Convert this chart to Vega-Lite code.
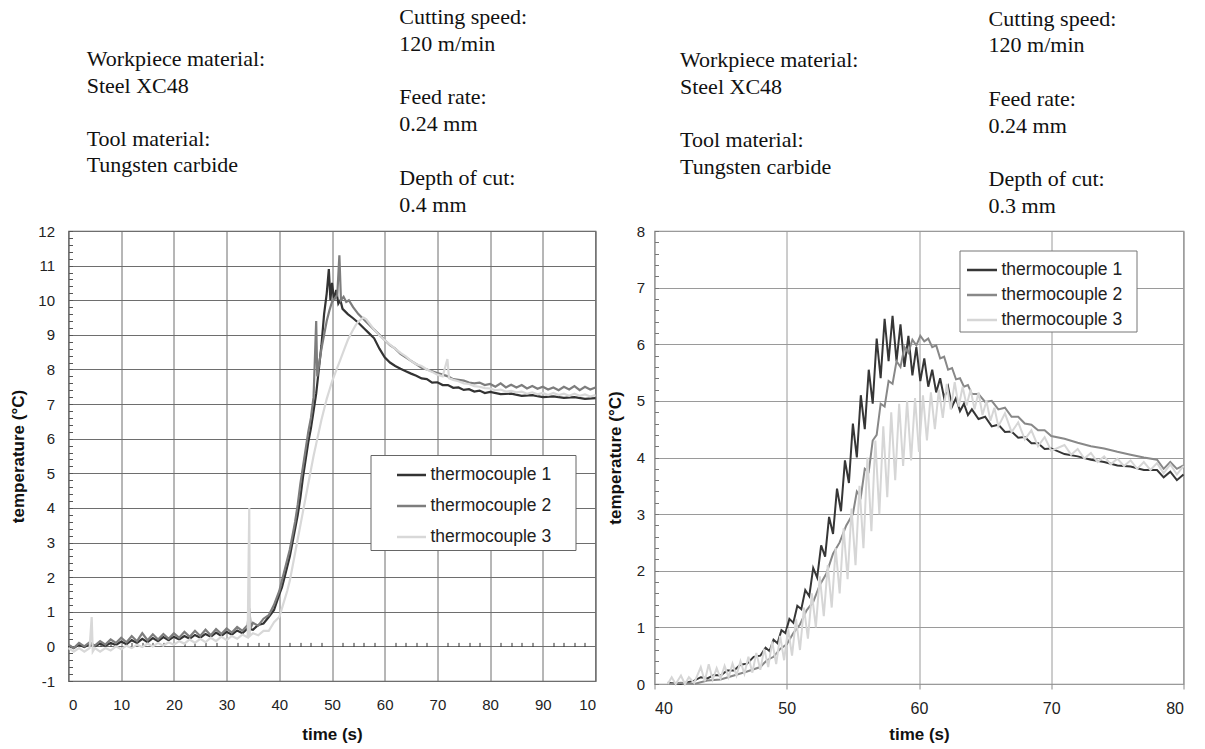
{
"$schema": "https://vega.github.io/schema/vega-lite/v6.json",
"background": "white",
"padding": {"left": 8.5, "top": 4, "right": 0, "bottom": 0},
"spacing": 5,
"config": {
  "font": "Liberation Sans",
  "axis": {"labelFont": "Liberation Sans", "titleFont": "Liberation Sans", "labelColor": "#222", "titleColor": "#111", "titleFontWeight": "bold", "titleFontSize": 17, "labelFontSize": 15}
},
"resolve": {"scale": {"color": "independent"}, "legend": {"color": "independent"}},
"datasets": {
"L": [
{"s":1,"t":0,"v":0.02},{"s":1,"t":1,"v":-0.05},{"s":1,"t":2,"v":0.05},{"s":1,"t":3,"v":-0.02},{"s":1,"t":4,"v":0.06},{"s":1,"t":5,"v":0.0},{"s":1,"t":6,"v":0.08},{"s":1,"t":7,"v":0.02},{"s":1,"t":8,"v":0.1},{"s":1,"t":9,"v":0.04},{"s":1,"t":10,"v":0.14},{"s":1,"t":11,"v":0.06},{"s":1,"t":12,"v":0.18},{"s":1,"t":13,"v":0.1},{"s":1,"t":14,"v":0.22},{"s":1,"t":15,"v":0.12},{"s":1,"t":16,"v":0.24},{"s":1,"t":17,"v":0.15},{"s":1,"t":18,"v":0.27},{"s":1,"t":19,"v":0.18},{"s":1,"t":20,"v":0.28},{"s":1,"t":21,"v":0.2},{"s":1,"t":22,"v":0.3},{"s":1,"t":23,"v":0.22},{"s":1,"t":24,"v":0.33},{"s":1,"t":25,"v":0.25},{"s":1,"t":26,"v":0.36},{"s":1,"t":27,"v":0.28},{"s":1,"t":28,"v":0.4},{"s":1,"t":29,"v":0.3},{"s":1,"t":30,"v":0.42},{"s":1,"t":31,"v":0.34},{"s":1,"t":32,"v":0.46},{"s":1,"t":33,"v":0.38},{"s":1,"t":34,"v":0.52},{"s":1,"t":35,"v":0.48},{"s":1,"t":36,"v":0.62},{"s":1,"t":37,"v":0.66},{"s":1,"t":38,"v":0.85},{"s":1,"t":39,"v":1.05},{"s":1,"t":40,"v":1.5},{"s":1,"t":40.5,"v":1.7},{"s":1,"t":41,"v":2.0},{"s":1,"t":41.5,"v":2.3},{"s":1,"t":42,"v":2.6},{"s":1,"t":42.5,"v":3.0},{"s":1,"t":43,"v":3.4},{"s":1,"t":43.5,"v":3.8},{"s":1,"t":44,"v":4.3},{"s":1,"t":44.5,"v":4.9},{"s":1,"t":45,"v":5.4},{"s":1,"t":45.5,"v":5.9},{"s":1,"t":46,"v":6.3},{"s":1,"t":46.5,"v":6.8},{"s":1,"t":47,"v":7.3},{"s":1,"t":47.5,"v":8.0},{"s":1,"t":48,"v":8.7},{"s":1,"t":48.5,"v":9.6},{"s":1,"t":49,"v":10.2},{"s":1,"t":49.4,"v":10.9},{"s":1,"t":49.7,"v":10.0},{"s":1,"t":50,"v":10.5},{"s":1,"t":50.4,"v":10.0},{"s":1,"t":50.8,"v":10.3},{"s":1,"t":51.2,"v":9.9},{"s":1,"t":51.6,"v":10.0},{"s":1,"t":52,"v":9.75},{"s":1,"t":53,"v":9.6},{"s":1,"t":54,"v":9.48},{"s":1,"t":55,"v":9.35},{"s":1,"t":56,"v":9.2},{"s":1,"t":57,"v":9.05},{"s":1,"t":58,"v":8.9},{"s":1,"t":59,"v":8.6},{"s":1,"t":60,"v":8.35},{"s":1,"t":61,"v":8.2},{"s":1,"t":62,"v":8.1},{"s":1,"t":63,"v":8.02},{"s":1,"t":64,"v":7.95},{"s":1,"t":65,"v":7.88},{"s":1,"t":66,"v":7.82},{"s":1,"t":67,"v":7.74},{"s":1,"t":68,"v":7.72},{"s":1,"t":69,"v":7.62},{"s":1,"t":70,"v":7.63},{"s":1,"t":71,"v":7.55},{"s":1,"t":72,"v":7.55},{"s":1,"t":73,"v":7.47},{"s":1,"t":74,"v":7.48},{"s":1,"t":75,"v":7.41},{"s":1,"t":76,"v":7.43},{"s":1,"t":77,"v":7.36},{"s":1,"t":78,"v":7.39},{"s":1,"t":79,"v":7.32},{"s":1,"t":80,"v":7.35},{"s":1,"t":82,"v":7.29},{"s":1,"t":84,"v":7.3},{"s":1,"t":86,"v":7.24},{"s":1,"t":88,"v":7.26},{"s":1,"t":90,"v":7.2},{"s":1,"t":92,"v":7.22},{"s":1,"t":94,"v":7.18},{"s":1,"t":96,"v":7.2},{"s":1,"t":98,"v":7.15},{"s":1,"t":100,"v":7.17},
{"s":2,"t":0,"v":0.05},{"s":2,"t":1,"v":-0.05},{"s":2,"t":2,"v":0.1},{"s":2,"t":3,"v":0.0},{"s":2,"t":4,"v":0.12},{"s":2,"t":5,"v":0.02},{"s":2,"t":6,"v":0.15},{"s":2,"t":7,"v":0.05},{"s":2,"t":8,"v":0.2},{"s":2,"t":9,"v":0.1},{"s":2,"t":10,"v":0.25},{"s":2,"t":11,"v":0.12},{"s":2,"t":12,"v":0.3},{"s":2,"t":13,"v":0.15},{"s":2,"t":14,"v":0.38},{"s":2,"t":15,"v":0.18},{"s":2,"t":16,"v":0.35},{"s":2,"t":17,"v":0.2},{"s":2,"t":18,"v":0.36},{"s":2,"t":19,"v":0.22},{"s":2,"t":20,"v":0.38},{"s":2,"t":21,"v":0.25},{"s":2,"t":22,"v":0.42},{"s":2,"t":23,"v":0.28},{"s":2,"t":24,"v":0.45},{"s":2,"t":25,"v":0.3},{"s":2,"t":26,"v":0.48},{"s":2,"t":27,"v":0.32},{"s":2,"t":28,"v":0.5},{"s":2,"t":29,"v":0.36},{"s":2,"t":30,"v":0.52},{"s":2,"t":31,"v":0.4},{"s":2,"t":32,"v":0.56},{"s":2,"t":33,"v":0.45},{"s":2,"t":34,"v":0.62},{"s":2,"t":34.3,"v":1.1},{"s":2,"t":34.6,"v":0.55},{"s":2,"t":35,"v":0.68},{"s":2,"t":36,"v":0.6},{"s":2,"t":37,"v":0.8},{"s":2,"t":38,"v":0.9},{"s":2,"t":39,"v":1.2},{"s":2,"t":40,"v":1.6},{"s":2,"t":40.5,"v":1.9},{"s":2,"t":41,"v":2.2},{"s":2,"t":41.5,"v":2.5},{"s":2,"t":42,"v":2.8},{"s":2,"t":42.5,"v":3.2},{"s":2,"t":43,"v":3.6},{"s":2,"t":43.5,"v":4.1},{"s":2,"t":44,"v":4.7},{"s":2,"t":44.5,"v":5.2},{"s":2,"t":45,"v":5.7},{"s":2,"t":45.5,"v":6.2},{"s":2,"t":46,"v":6.6},{"s":2,"t":46.5,"v":7.2},{"s":2,"t":47,"v":9.4},{"s":2,"t":47.2,"v":7.8},{"s":2,"t":47.6,"v":8.2},{"s":2,"t":48,"v":8.6},{"s":2,"t":48.5,"v":9.0},{"s":2,"t":49,"v":9.4},{"s":2,"t":49.5,"v":9.7},{"s":2,"t":50,"v":9.95},{"s":2,"t":50.5,"v":10.05},{"s":2,"t":51,"v":10.15},{"s":2,"t":51.4,"v":11.3},{"s":2,"t":51.7,"v":10.0},{"s":2,"t":52.2,"v":10.1},{"s":2,"t":52.7,"v":9.95},{"s":2,"t":53.2,"v":10.0},{"s":2,"t":54,"v":9.8},{"s":2,"t":55,"v":9.6},{"s":2,"t":56,"v":9.45},{"s":2,"t":57,"v":9.3},{"s":2,"t":58,"v":9.15},{"s":2,"t":59,"v":9.0},{"s":2,"t":60,"v":8.85},{"s":2,"t":61,"v":8.7},{"s":2,"t":62,"v":8.6},{"s":2,"t":63,"v":8.45},{"s":2,"t":64,"v":8.35},{"s":2,"t":65,"v":8.25},{"s":2,"t":66,"v":8.15},{"s":2,"t":67,"v":8.05},{"s":2,"t":68,"v":8.0},{"s":2,"t":69,"v":7.95},{"s":2,"t":70,"v":7.9},{"s":2,"t":71,"v":7.85},{"s":2,"t":72,"v":7.8},{"s":2,"t":73,"v":7.72},{"s":2,"t":74,"v":7.7},{"s":2,"t":75,"v":7.68},{"s":2,"t":76,"v":7.62},{"s":2,"t":77,"v":7.6},{"s":2,"t":78,"v":7.62},{"s":2,"t":79,"v":7.55},{"s":2,"t":80,"v":7.58},{"s":2,"t":81,"v":7.5},{"s":2,"t":82,"v":7.6},{"s":2,"t":83,"v":7.48},{"s":2,"t":84,"v":7.56},{"s":2,"t":85,"v":7.48},{"s":2,"t":86,"v":7.55},{"s":2,"t":87,"v":7.45},{"s":2,"t":88,"v":7.52},{"s":2,"t":89,"v":7.44},{"s":2,"t":90,"v":7.5},{"s":2,"t":91,"v":7.42},{"s":2,"t":92,"v":7.48},{"s":2,"t":93,"v":7.4},{"s":2,"t":94,"v":7.5},{"s":2,"t":95,"v":7.42},{"s":2,"t":96,"v":7.52},{"s":2,"t":97,"v":7.4},{"s":2,"t":98,"v":7.5},{"s":2,"t":99,"v":7.42},{"s":2,"t":100,"v":7.48},
{"s":3,"t":0,"v":-0.05},{"s":3,"t":1,"v":-0.15},{"s":3,"t":2,"v":-0.05},{"s":3,"t":3,"v":-0.15},{"s":3,"t":4,"v":-0.05},{"s":3,"t":4.4,"v":0.85},{"s":3,"t":4.6,"v":-0.15},{"s":3,"t":5,"v":-0.05},{"s":3,"t":6,"v":-0.15},{"s":3,"t":7,"v":-0.05},{"s":3,"t":8,"v":-0.12},{"s":3,"t":9,"v":0.0},{"s":3,"t":10,"v":-0.08},{"s":3,"t":11,"v":0.02},{"s":3,"t":12,"v":-0.05},{"s":3,"t":13,"v":0.05},{"s":3,"t":14,"v":-0.02},{"s":3,"t":15,"v":0.08},{"s":3,"t":16,"v":0.0},{"s":3,"t":17,"v":0.1},{"s":3,"t":18,"v":0.02},{"s":3,"t":19,"v":0.12},{"s":3,"t":20,"v":0.05},{"s":3,"t":21,"v":0.15},{"s":3,"t":22,"v":0.08},{"s":3,"t":23,"v":0.2},{"s":3,"t":24,"v":0.1},{"s":3,"t":25,"v":0.22},{"s":3,"t":26,"v":0.12},{"s":3,"t":27,"v":0.25},{"s":3,"t":28,"v":0.15},{"s":3,"t":29,"v":0.28},{"s":3,"t":30,"v":0.18},{"s":3,"t":31,"v":0.3},{"s":3,"t":32,"v":0.22},{"s":3,"t":33,"v":0.34},{"s":3,"t":34,"v":0.26},{"s":3,"t":34.3,"v":4.0},{"s":3,"t":34.4,"v":0.3},{"s":3,"t":35,"v":0.38},{"s":3,"t":36,"v":0.32},{"s":3,"t":37,"v":0.45},{"s":3,"t":38,"v":0.45},{"s":3,"t":39,"v":0.7},{"s":3,"t":40,"v":0.85},{"s":3,"t":40.5,"v":1.1},{"s":3,"t":41,"v":1.35},{"s":3,"t":41.5,"v":1.6},{"s":3,"t":42,"v":1.9},{"s":3,"t":42.5,"v":2.3},{"s":3,"t":43,"v":2.7},{"s":3,"t":43.5,"v":3.1},{"s":3,"t":44,"v":3.5},{"s":3,"t":44.5,"v":3.9},{"s":3,"t":45,"v":4.3},{"s":3,"t":45.5,"v":4.7},{"s":3,"t":46,"v":5.1},{"s":3,"t":46.5,"v":5.5},{"s":3,"t":47,"v":5.85},{"s":3,"t":47.5,"v":6.2},{"s":3,"t":48,"v":6.55},{"s":3,"t":48.5,"v":6.85},{"s":3,"t":49,"v":7.15},{"s":3,"t":49.5,"v":7.4},{"s":3,"t":50,"v":7.65},{"s":3,"t":50.5,"v":7.85},{"s":3,"t":51,"v":8.05},{"s":3,"t":51.5,"v":8.25},{"s":3,"t":52,"v":8.45},{"s":3,"t":52.5,"v":8.65},{"s":3,"t":53,"v":8.85},{"s":3,"t":53.5,"v":9.0},{"s":3,"t":54,"v":9.15},{"s":3,"t":54.5,"v":9.28},{"s":3,"t":55,"v":9.38},{"s":3,"t":55.5,"v":9.45},{"s":3,"t":56,"v":9.5},{"s":3,"t":56.5,"v":9.45},{"s":3,"t":57,"v":9.35},{"s":3,"t":58,"v":9.15},{"s":3,"t":59,"v":8.98},{"s":3,"t":60,"v":8.85},{"s":3,"t":61,"v":8.72},{"s":3,"t":62,"v":8.6},{"s":3,"t":63,"v":8.48},{"s":3,"t":64,"v":8.38},{"s":3,"t":65,"v":8.25},{"s":3,"t":66,"v":8.15},{"s":3,"t":67,"v":8.1},{"s":3,"t":68,"v":8.0},{"s":3,"t":69,"v":7.93},{"s":3,"t":70,"v":7.85},{"s":3,"t":71,"v":7.8},{"s":3,"t":71.9,"v":8.3},{"s":3,"t":72.2,"v":7.75},{"s":3,"t":73,"v":7.7},{"s":3,"t":74,"v":7.66},{"s":3,"t":75,"v":7.6},{"s":3,"t":76,"v":7.58},{"s":3,"t":77,"v":7.52},{"s":3,"t":78,"v":7.5},{"s":3,"t":79,"v":7.46},{"s":3,"t":80,"v":7.45},{"s":3,"t":81,"v":7.4},{"s":3,"t":82,"v":7.42},{"s":3,"t":83,"v":7.36},{"s":3,"t":84,"v":7.38},{"s":3,"t":85,"v":7.34},{"s":3,"t":86,"v":7.36},{"s":3,"t":87,"v":7.3},{"s":3,"t":88,"v":7.34},{"s":3,"t":89,"v":7.28},{"s":3,"t":90,"v":7.32},{"s":3,"t":91,"v":7.26},{"s":3,"t":92,"v":7.32},{"s":3,"t":93,"v":7.26},{"s":3,"t":94,"v":7.3},{"s":3,"t":95,"v":7.24},{"s":3,"t":96,"v":7.3},{"s":3,"t":97,"v":7.24},{"s":3,"t":98,"v":7.28},{"s":3,"t":99,"v":7.22},{"s":3,"t":100,"v":7.26}
],
"R": [
{"s":1,"t":41,"v":0.02},{"s":1,"t":42,"v":0.0},{"s":1,"t":43,"v":0.06},{"s":1,"t":43.5,"v":0.12},{"s":1,"t":44,"v":0.1},{"s":1,"t":44.5,"v":0.16},{"s":1,"t":45,"v":0.15},{"s":1,"t":45.5,"v":0.24},{"s":1,"t":46,"v":0.24},{"s":1,"t":46.5,"v":0.34},{"s":1,"t":47,"v":0.36},{"s":1,"t":47.5,"v":0.48},{"s":1,"t":48,"v":0.5},{"s":1,"t":48.4,"v":0.64},{"s":1,"t":48.7,"v":0.58},{"s":1,"t":49,"v":0.78},{"s":1,"t":49.3,"v":0.72},{"s":1,"t":49.6,"v":0.95},{"s":1,"t":49.9,"v":0.9},{"s":1,"t":50.2,"v":1.15},{"s":1,"t":50.5,"v":1.08},{"s":1,"t":50.8,"v":1.38},{"s":1,"t":51.1,"v":1.32},{"s":1,"t":51.4,"v":1.66},{"s":1,"t":51.7,"v":1.55},{"s":1,"t":52.0,"v":2.05},{"s":1,"t":52.3,"v":1.88},{"s":1,"t":52.6,"v":2.45},{"s":1,"t":52.9,"v":2.25},{"s":1,"t":53.2,"v":2.95},{"s":1,"t":53.5,"v":2.65},{"s":1,"t":53.8,"v":3.45},{"s":1,"t":54.1,"v":3.05},{"s":1,"t":54.4,"v":3.95},{"s":1,"t":54.7,"v":3.55},{"s":1,"t":55.0,"v":4.6},{"s":1,"t":55.3,"v":4.0},{"s":1,"t":55.6,"v":5.1},{"s":1,"t":55.9,"v":4.5},{"s":1,"t":56.2,"v":5.55},{"s":1,"t":56.5,"v":4.95},{"s":1,"t":56.8,"v":6.1},{"s":1,"t":57.1,"v":5.4},{"s":1,"t":57.4,"v":6.45},{"s":1,"t":57.7,"v":5.7},{"s":1,"t":58.0,"v":6.5},{"s":1,"t":58.3,"v":5.7},{"s":1,"t":58.6,"v":6.35},{"s":1,"t":58.9,"v":5.6},{"s":1,"t":59.2,"v":6.15},{"s":1,"t":59.5,"v":5.45},{"s":1,"t":59.8,"v":5.95},{"s":1,"t":60.1,"v":5.35},{"s":1,"t":60.4,"v":5.75},{"s":1,"t":60.7,"v":5.25},{"s":1,"t":61.0,"v":5.55},{"s":1,"t":61.3,"v":5.15},{"s":1,"t":61.6,"v":5.4},{"s":1,"t":61.9,"v":5.05},{"s":1,"t":62.2,"v":5.25},{"s":1,"t":62.5,"v":4.9},{"s":1,"t":62.8,"v":5.05},{"s":1,"t":63.1,"v":4.82},{"s":1,"t":63.4,"v":4.95},{"s":1,"t":63.7,"v":4.75},{"s":1,"t":64.0,"v":4.85},{"s":1,"t":64.5,"v":4.68},{"s":1,"t":65,"v":4.72},{"s":1,"t":65.5,"v":4.55},{"s":1,"t":66,"v":4.58},{"s":1,"t":66.5,"v":4.45},{"s":1,"t":67,"v":4.46},{"s":1,"t":67.5,"v":4.35},{"s":1,"t":68,"v":4.36},{"s":1,"t":68.5,"v":4.25},{"s":1,"t":69,"v":4.25},{"s":1,"t":69.5,"v":4.15},{"s":1,"t":70,"v":4.16},{"s":1,"t":71,"v":4.06},{"s":1,"t":72,"v":4.02},{"s":1,"t":73,"v":3.96},{"s":1,"t":74,"v":3.92},{"s":1,"t":75,"v":3.86},{"s":1,"t":76,"v":3.84},{"s":1,"t":77,"v":3.78},{"s":1,"t":78,"v":3.78},{"s":1,"t":78.5,"v":3.65},{"s":1,"t":79,"v":3.75},{"s":1,"t":79.5,"v":3.6},{"s":1,"t":80,"v":3.7},
{"s":2,"t":41,"v":0.0},{"s":2,"t":42,"v":0.02},{"s":2,"t":43,"v":0.0},{"s":2,"t":44,"v":0.06},{"s":2,"t":45,"v":0.08},{"s":2,"t":46,"v":0.15},{"s":2,"t":47,"v":0.22},{"s":2,"t":48,"v":0.3},{"s":2,"t":48.5,"v":0.42},{"s":2,"t":49,"v":0.48},{"s":2,"t":49.5,"v":0.62},{"s":2,"t":50,"v":0.7},{"s":2,"t":50.5,"v":0.9},{"s":2,"t":51,"v":1.05},{"s":2,"t":51.5,"v":1.3},{"s":2,"t":52,"v":1.45},{"s":2,"t":52.5,"v":1.75},{"s":2,"t":53,"v":1.95},{"s":2,"t":53.5,"v":2.3},{"s":2,"t":54,"v":2.5},{"s":2,"t":54.5,"v":2.8},{"s":2,"t":55,"v":3.0},{"s":2,"t":55.3,"v":3.4},{"s":2,"t":55.6,"v":3.3},{"s":2,"t":55.9,"v":3.8},{"s":2,"t":56.2,"v":3.75},{"s":2,"t":56.5,"v":4.3},{"s":2,"t":56.8,"v":4.4},{"s":2,"t":57.1,"v":4.95},{"s":2,"t":57.4,"v":4.9},{"s":2,"t":57.7,"v":5.35},{"s":2,"t":58.0,"v":5.3},{"s":2,"t":58.3,"v":5.7},{"s":2,"t":58.6,"v":5.6},{"s":2,"t":58.9,"v":5.95},{"s":2,"t":59.2,"v":5.85},{"s":2,"t":59.5,"v":6.08},{"s":2,"t":59.8,"v":5.98},{"s":2,"t":60.1,"v":6.15},{"s":2,"t":60.4,"v":6.05},{"s":2,"t":60.7,"v":6.1},{"s":2,"t":61.0,"v":5.95},{"s":2,"t":61.3,"v":5.98},{"s":2,"t":61.6,"v":5.75},{"s":2,"t":61.9,"v":5.78},{"s":2,"t":62.2,"v":5.55},{"s":2,"t":62.5,"v":5.58},{"s":2,"t":62.8,"v":5.38},{"s":2,"t":63.1,"v":5.4},{"s":2,"t":63.4,"v":5.25},{"s":2,"t":63.7,"v":5.28},{"s":2,"t":64,"v":5.12},{"s":2,"t":64.5,"v":5.12},{"s":2,"t":65,"v":4.98},{"s":2,"t":65.5,"v":5.0},{"s":2,"t":66,"v":4.85},{"s":2,"t":66.5,"v":4.88},{"s":2,"t":67,"v":4.72},{"s":2,"t":67.5,"v":4.72},{"s":2,"t":68,"v":4.6},{"s":2,"t":68.5,"v":4.58},{"s":2,"t":69,"v":4.48},{"s":2,"t":69.5,"v":4.48},{"s":2,"t":70,"v":4.38},{"s":2,"t":71,"v":4.33},{"s":2,"t":72,"v":4.26},{"s":2,"t":73,"v":4.2},{"s":2,"t":74,"v":4.16},{"s":2,"t":75,"v":4.1},{"s":2,"t":76,"v":4.05},{"s":2,"t":77,"v":4.0},{"s":2,"t":78,"v":3.96},{"s":2,"t":78.5,"v":3.8},{"s":2,"t":79,"v":3.92},{"s":2,"t":79.5,"v":3.8},{"s":2,"t":80,"v":3.86},
{"s":3,"t":41,"v":0.0},{"s":3,"t":41.3,"v":0.12},{"s":3,"t":41.6,"v":0.0},{"s":3,"t":42,"v":0.15},{"s":3,"t":42.3,"v":0.0},{"s":3,"t":42.6,"v":0.12},{"s":3,"t":43,"v":0.02},{"s":3,"t":43.5,"v":0.3},{"s":3,"t":43.8,"v":0.05},{"s":3,"t":44.1,"v":0.35},{"s":3,"t":44.4,"v":0.08},{"s":3,"t":44.7,"v":0.28},{"s":3,"t":45.0,"v":0.1},{"s":3,"t":45.3,"v":0.32},{"s":3,"t":45.6,"v":0.12},{"s":3,"t":45.9,"v":0.36},{"s":3,"t":46.2,"v":0.15},{"s":3,"t":46.5,"v":0.4},{"s":3,"t":46.8,"v":0.18},{"s":3,"t":47.1,"v":0.48},{"s":3,"t":47.4,"v":0.2},{"s":3,"t":47.7,"v":0.55},{"s":3,"t":48.0,"v":0.25},{"s":3,"t":48.3,"v":0.62},{"s":3,"t":48.6,"v":0.3},{"s":3,"t":48.9,"v":0.75},{"s":3,"t":49.2,"v":0.35},{"s":3,"t":49.5,"v":0.85},{"s":3,"t":49.8,"v":0.42},{"s":3,"t":50.1,"v":0.98},{"s":3,"t":50.4,"v":0.5},{"s":3,"t":50.7,"v":1.15},{"s":3,"t":51.0,"v":0.6},{"s":3,"t":51.3,"v":1.35},{"s":3,"t":51.6,"v":0.8},{"s":3,"t":51.9,"v":1.6},{"s":3,"t":52.2,"v":1.0},{"s":3,"t":52.5,"v":1.9},{"s":3,"t":52.8,"v":1.2},{"s":3,"t":53.1,"v":2.1},{"s":3,"t":53.4,"v":1.35},{"s":3,"t":53.7,"v":2.4},{"s":3,"t":54.0,"v":1.6},{"s":3,"t":54.3,"v":2.75},{"s":3,"t":54.6,"v":1.85},{"s":3,"t":54.9,"v":3.1},{"s":3,"t":55.2,"v":2.1},{"s":3,"t":55.5,"v":3.5},{"s":3,"t":55.8,"v":2.4},{"s":3,"t":56.1,"v":4.0},{"s":3,"t":56.4,"v":2.7},{"s":3,"t":56.7,"v":4.3},{"s":3,"t":57.0,"v":3.0},{"s":3,"t":57.3,"v":4.55},{"s":3,"t":57.6,"v":3.3},{"s":3,"t":57.9,"v":4.8},{"s":3,"t":58.2,"v":3.6},{"s":3,"t":58.5,"v":4.95},{"s":3,"t":58.8,"v":3.85},{"s":3,"t":59.1,"v":5.0},{"s":3,"t":59.4,"v":3.95},{"s":3,"t":59.7,"v":5.05},{"s":3,"t":60.0,"v":4.1},{"s":3,"t":60.3,"v":5.1},{"s":3,"t":60.6,"v":4.3},{"s":3,"t":60.9,"v":5.15},{"s":3,"t":61.2,"v":4.5},{"s":3,"t":61.5,"v":5.2},{"s":3,"t":61.8,"v":4.7},{"s":3,"t":62.1,"v":5.3},{"s":3,"t":62.4,"v":4.85},{"s":3,"t":62.7,"v":5.33},{"s":3,"t":63.0,"v":4.9},{"s":3,"t":63.3,"v":5.25},{"s":3,"t":63.6,"v":4.92},{"s":3,"t":63.9,"v":5.2},{"s":3,"t":64.2,"v":4.85},{"s":3,"t":64.5,"v":5.15},{"s":3,"t":64.8,"v":4.75},{"s":3,"t":65.1,"v":5.0},{"s":3,"t":65.4,"v":4.65},{"s":3,"t":65.7,"v":4.88},{"s":3,"t":66.0,"v":4.55},{"s":3,"t":66.5,"v":4.78},{"s":3,"t":67,"v":4.45},{"s":3,"t":67.5,"v":4.62},{"s":3,"t":68,"v":4.32},{"s":3,"t":68.5,"v":4.48},{"s":3,"t":69,"v":4.2},{"s":3,"t":69.5,"v":4.36},{"s":3,"t":70,"v":4.12},{"s":3,"t":71,"v":4.22},{"s":3,"t":71.5,"v":4.05},{"s":3,"t":72,"v":4.15},{"s":3,"t":72.5,"v":3.98},{"s":3,"t":73,"v":4.08},{"s":3,"t":73.5,"v":3.92},{"s":3,"t":74,"v":4.02},{"s":3,"t":74.5,"v":3.88},{"s":3,"t":75,"v":3.98},{"s":3,"t":75.5,"v":3.85},{"s":3,"t":76,"v":3.95},{"s":3,"t":76.5,"v":3.8},{"s":3,"t":77,"v":3.92},{"s":3,"t":77.5,"v":3.78},{"s":3,"t":78,"v":3.9},{"s":3,"t":78.5,"v":3.72},{"s":3,"t":79,"v":3.88},{"s":3,"t":79.5,"v":3.7},{"s":3,"t":80,"v":3.85}
]
},
"hconcat": [
{
  "width": 527, "height": 450,
  "view": {"stroke": "#5a5a5a", "strokeWidth": 1.2},
  "resolve": {"axis": {"x": "independent", "y": "independent"}},
  "layer": [
    {
      "data": {"name": "L"},
      "mark": {"type": "line", "strokeWidth": 2.2},
      "encoding": {
        "x": {"field": "t", "type": "quantitative", "scale": {"domain": [0, 100], "nice": false, "zero": false},
          "axis": {"orient": "bottom", "values": [0,10,20,30,40,50,60,70,80,90,100], "title": "time (s)", "grid": true, "gridColor": "#6e6e6e", "gridWidth": 1, "ticks": false, "domain": false, "labelPadding": 16, "titlePadding": 14, "labelOverlap": false, "labelExpr": "datum.value == 100 ? '10' : datum.label"}},
        "y": {"field": "v", "type": "quantitative", "scale": {"domain": [-1, 12], "nice": false, "zero": false},
          "axis": {"orient": "left", "values": [-1,-0.8,-0.6,-0.4,-0.2,0,0.2,0.4,0.6,0.8,1,1.2,1.4,1.6,1.8,2,2.2,2.4,2.6,2.8,3,3.2,3.4,3.6,3.8,4,4.2,4.4,4.6,4.8,5,5.2,5.4,5.6,5.8,6,6.2,6.4,6.6,6.8,7,7.2,7.4,7.6,7.8,8,8.2,8.4,8.6,8.8,9,9.2,9.4,9.6,9.8,10,10.2,10.4,10.6,10.8,11,11.2,11.4,11.6,11.8,12],
            "labelExpr": "abs(datum.value - round(datum.value)) < 0.01 ? '' + round(datum.value) : ''", "labelOverlap": false,
            "title": "temperature (°C)", "grid": true, "gridColor": "#6e6e6e", "gridOpacity": {"condition": {"test": "abs(datum.value - round(datum.value)) > 0.01", "value": 0}, "value": 1},
            "ticks": true, "tickSize": -4, "tickColor": "#555", "domain": false, "labelPadding": 18, "titlePadding": 10}},
        "color": {"field": "s", "type": "nominal", "scale": {"domain": [1, 2, 3], "range": ["#333333", "#7d7d7d", "#d8d8d8"]},
          "legend": {"orient": "none", "legendX": 302, "legendY": 224, "title": "\u00a0", "titleOrient": "right", "titlePadding": 20, "titleFontSize": 8, "labelExpr": "'thermocouple ' + datum.label", "strokeColor": "#666", "fillColor": "#ffffff", "padding": 4, "symbolType": "stroke", "symbolSize": 841, "symbolStrokeWidth": 2.5, "symbolOffset": 21, "labelOffset": 3, "labelFont": "Liberation Sans", "labelFontSize": 17.5, "labelColor": "#222", "rowPadding": 6}}
      }
    },
    {
      "mark": {"type": "rule", "color": "#333", "strokeWidth": 1.2},
      "encoding": {
        "x": {"datum": 0, "type": "quantitative", "axis": {"orient": "bottom", "offset": -34.6, "values": [2,4,6,8,12,14,16,18,22,24,26,28,32,34,36,38,42,44,46,48,52,54,56,58,62,64,66,68,72,74,76,78,82,84,86,88,92,94,96,98], "labels": false, "domain": false, "grid": false, "ticks": true, "tickSize": -4, "tickColor": "#333", "title": null}},
        "x2": {"datum": 100},
        "y": {"datum": 0, "type": "quantitative", "axis": {"orient": "right", "labels": false, "ticks": false, "domain": false, "grid": false,
          "title": ["Cutting speed:", "120 m/min", "\u2800", "Feed rate:", "0.24 mm", "\u2800", "Depth of cut:", "0.4 mm"],
          "titleAngle": 0, "titleAlign": "left", "titleBaseline": "alphabetic", "titleX": -196.7, "titleY": -207.7, "titleFont": "Liberation Serif", "titleFontSize": 22, "titleFontWeight": "normal", "titleColor": "#111", "titleLineHeight": 26.9, "titleLimit": 2000}}
      }
    },
    {
      "mark": {"type": "rule", "strokeOpacity": 0},
      "encoding": {
        "x": {"datum": 0, "type": "quantitative", "axis": {"orient": "top", "labels": false, "ticks": false, "domain": false, "grid": false,
          "title": ["Workpiece material:", "Steel XC48", "\u2800", "Tool material:", "Tungsten carbide"],
          "titleAngle": 0, "titleAlign": "left", "titleBaseline": "alphabetic", "titleX": 17.7, "titleY": -165.3, "titleFont": "Liberation Serif", "titleFontSize": 22, "titleFontWeight": "normal", "titleColor": "#111", "titleLineHeight": 26.5, "titleLimit": 2000}},
        "x2": {"datum": 100},
        "y": {"datum": 0, "type": "quantitative", "axis": null}
      }
    }
  ]
},
{
  "width": 529, "height": 453,
  "view": {"stroke": "#8a8a8a", "strokeWidth": 1.2},
  "resolve": {"axis": {"x": "independent", "y": "independent"}},
  "layer": [
    {
      "data": {"name": "R"},
      "mark": {"type": "line", "strokeWidth": 2},
      "encoding": {
        "x": {"field": "t", "type": "quantitative", "scale": {"domain": [40, 80], "nice": false, "zero": false},
          "axis": {"orient": "bottom", "values": [40,50,60,70,80], "title": "time (s)", "grid": true, "gridColor": "#9a9a9a", "ticks": true, "tickSize": 5, "tickColor": "#888", "domain": false, "labelPadding": 11, "titlePadding": 10, "labelFontSize": 16, "labelOverlap": false}},
        "y": {"field": "v", "type": "quantitative", "scale": {"domain": [0, 8], "nice": false, "zero": false},
          "axis": {"orient": "left", "values": [0,0.2,0.4,0.6,0.8,1,1.2,1.4,1.6,1.8,2,2.2,2.4,2.6,2.8,3,3.2,3.4,3.6,3.8,4,4.2,4.4,4.6,4.8,5,5.2,5.4,5.6,5.8,6,6.2,6.4,6.6,6.8,7,7.2,7.4,7.6,7.8,8],
            "labelExpr": "abs(datum.value - round(datum.value)) < 0.01 ? '' + round(datum.value) : ''", "labelOverlap": false,
            "title": "temperature (°C)", "grid": true, "gridColor": "#9a9a9a", "gridOpacity": {"condition": {"test": "abs(datum.value - round(datum.value)) > 0.01", "value": 0}, "value": 1},
            "ticks": true, "tickSize": -4, "tickColor": "#777", "domain": false, "labelPadding": 14, "titlePadding": 12}},
        "color": {"field": "s", "type": "nominal", "scale": {"domain": [1, 2, 3], "range": ["#363636", "#888888", "#d6d6d6"]},
          "legend": {"orient": "none", "legendX": 305, "legendY": 19.5, "title": "\u00a0", "titleOrient": "right", "titlePadding": 11, "titleFontSize": 8, "labelExpr": "'thermocouple ' + datum.label", "strokeColor": "#777", "fillColor": "#ffffff", "padding": 3, "symbolType": "stroke", "symbolSize": 900, "symbolStrokeWidth": 2.5, "symbolOffset": 3, "labelOffset": 3, "labelFont": "Liberation Sans", "labelFontSize": 17.5, "labelColor": "#222", "rowPadding": 0}}
      }
    },
    {
      "mark": {"type": "rule", "color": "#444", "strokeWidth": 1.5},
      "encoding": {
        "x": {"datum": 46.4, "type": "quantitative", "axis": {"orient": "top", "labels": false, "ticks": false, "domain": false, "grid": false,
          "title": ["Workpiece material:", "Steel XC48", "\u2800", "Tool material:", "Tungsten carbide"],
          "titleAngle": 0, "titleAlign": "left", "titleBaseline": "alphabetic", "titleX": 25, "titleY": -164.3, "titleFont": "Liberation Serif", "titleFontSize": 22, "titleFontWeight": "normal", "titleColor": "#111", "titleLineHeight": 26.6, "titleLimit": 2000}},
        "x2": {"datum": 80},
        "y": {"datum": 0, "type": "quantitative", "axis": {"orient": "right", "labels": false, "ticks": false, "domain": false, "grid": false,
          "title": ["Cutting speed:", "120 m/min", "\u2800", "Feed rate:", "0.24 mm", "\u2800", "Depth of cut:", "0.3 mm"],
          "titleAngle": 0, "titleAlign": "left", "titleBaseline": "alphabetic", "titleX": -195.4, "titleY": -206, "titleFont": "Liberation Serif", "titleFontSize": 22, "titleFontWeight": "normal", "titleColor": "#111", "titleLineHeight": 26.8, "titleLimit": 2000}}
      }
    }
  ]
}
]
}
